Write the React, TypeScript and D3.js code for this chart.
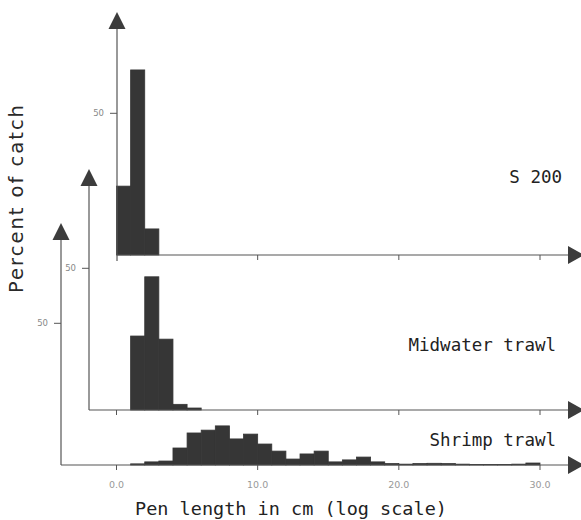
import React from "react";
import * as d3 from "d3";

const W = 581;
const H = 520;

// Percent of catch per 1-unit pen-length bin (bin start values)
const s200Bins = [0, 1, 2];
const s200Values = [24.3, 65.3, 9.2];

const midwaterBins = [1, 2, 3, 4, 5];
const midwaterValues = [26.1, 47.0, 25.0, 2.0, 0.7];

const shrimpBins = [1, 2, 3, 4, 5, 6, 7, 8, 9, 10, 11, 12, 13, 14, 15, 16, 17, 18, 19, 20, 21, 22, 23, 24, 25, 26, 27, 28, 29];
const shrimpValues = [0.4, 1.1, 1.4, 6.0, 11.3, 12.3, 13.8, 9.2, 10.9, 7.4, 4.9, 2.1, 3.9, 4.9, 1.1, 1.8, 2.8, 1.1, 0.5, 0.3, 0.5, 0.6, 0.5, 0.3, 0.2, 0.2, 0.2, 0.3, 0.7];

const seriesNames = ["S 200", "Midwater trawl", "Shrimp trawl"];
const xTicks = [0, 10, 20, 30];
const xTickLabels = ["0.0", "10.0", "20.0", "30.0"];
const yTicks = [50];

const series = [
  { name: seriesNames[0], bins: s200Bins, values: s200Values },
  { name: seriesNames[1], bins: midwaterBins, values: midwaterValues },
  { name: seriesNames[2], bins: shrimpBins, values: shrimpValues },
];

// Each panel is shifted left/down to give the stacked perspective look
const layout = [
  { axisX: 117, baseY: 255, topY: 29, labelX: 562, labelY: 183, axisBelow: 6 },
  { axisX: 89, baseY: 410, topY: 186, labelX: 556, labelY: 351, axisBelow: 0 },
  { axisX: 61, baseY: 465, topY: 240, labelX: 556, labelY: 446, axisBelow: 0 },
];

const x = d3.scaleLinear().domain([0, 30]).range([116.5, 540]);

const AXIS = "#555";
const BAR = "#363636";
const ARROW = "#3c3c3c";
const monoFont = "'DejaVu Sans Mono', 'Liberation Mono', monospace";
const sansFont = "'DejaVu Sans', 'Noto Sans', sans-serif";

export default function App() {
  const arrowEndX = 568;
  return (
    <div style={{ position: "fixed", left: 0, top: 0 }}>
      <svg width={W} height={H} style={{ display: "block", background: "#fff" }}>
        {series.map((s, i) => {
          const L = layout[i];
          const y = d3.scaleLinear().domain([0, 50]).range([L.baseY, L.baseY - 141.7]);
          const ticksHere = xTicks.filter((t) => x(t) > L.axisX + 2);
          return (
            <g key={s.name}>
              {/* histogram bars, outlined in their own colour so they read as one step shape */}
              {s.bins.map((b, j) => (
                <rect
                  key={j}
                  x={x(b)}
                  y={y(s.values[j])}
                  width={x(b + 1) - x(b)}
                  height={L.baseY - y(s.values[j])}
                  fill={BAR}
                  stroke={BAR}
                  strokeWidth={0.8}
                />
              ))}
              {/* vertical axis */}
              <line x1={L.axisX} x2={L.axisX} y1={L.topY} y2={L.baseY + L.axisBelow} stroke={AXIS} strokeWidth={1.2} />
              <polygon
                points={`${L.axisX - 8.5},${L.topY} ${L.axisX + 8.5},${L.topY} ${L.axisX},${L.topY - 17}`}
                fill={ARROW}
              />
              {yTicks.map((t) => (
                <g key={t}>
                  <line x1={L.axisX - 7} x2={L.axisX} y1={y(t)} y2={y(t)} stroke={AXIS} strokeWidth={1} />
                  <text
                    x={L.axisX - 13}
                    y={y(t)}
                    dy="0.35em"
                    textAnchor="end"
                    fontFamily={sansFont}
                    fontSize={8.5}
                    fill="#888"
                  >
                    {t}
                  </text>
                </g>
              ))}
              {/* horizontal axis */}
              <line x1={L.axisX} x2={arrowEndX} y1={L.baseY} y2={L.baseY} stroke={AXIS} strokeWidth={1.2} />
              <polygon
                points={`${arrowEndX},${L.baseY - 9} ${arrowEndX},${L.baseY + 9} ${arrowEndX + 16},${L.baseY}`}
                fill={ARROW}
              />
              {ticksHere.map((t) => (
                <line key={t} x1={x(t)} x2={x(t)} y1={L.baseY} y2={L.baseY + 5} stroke={AXIS} strokeWidth={1} />
              ))}
              <text
                x={L.labelX}
                y={L.labelY}
                textAnchor="end"
                fontFamily={monoFont}
                fontSize={17.5}
                fill="#222"
              >
                {s.name}
              </text>
            </g>
          );
        })}
        {/* x tick labels under the bottom panel */}
        {xTicks.map((t, k) => (
          <text
            key={t}
            x={x(t)}
            y={488}
            textAnchor="middle"
            fontFamily={sansFont}
            fontSize={9.5}
            fill="#999"
          >
            {xTickLabels[k]}
          </text>
        ))}
        <text x={291} y={515} textAnchor="middle" fontFamily={monoFont} fontSize={18.5} fill="#222">
          Pen length in cm (log scale)
        </text>
        <text
          transform="translate(23,198) rotate(-90)"
          textAnchor="middle"
          fontFamily={sansFont}
          fontSize={19.5}
          letterSpacing={2}
          fill="#2a2a2a"
        >
          Percent of catch
        </text>
      </svg>
    </div>
  );
}
